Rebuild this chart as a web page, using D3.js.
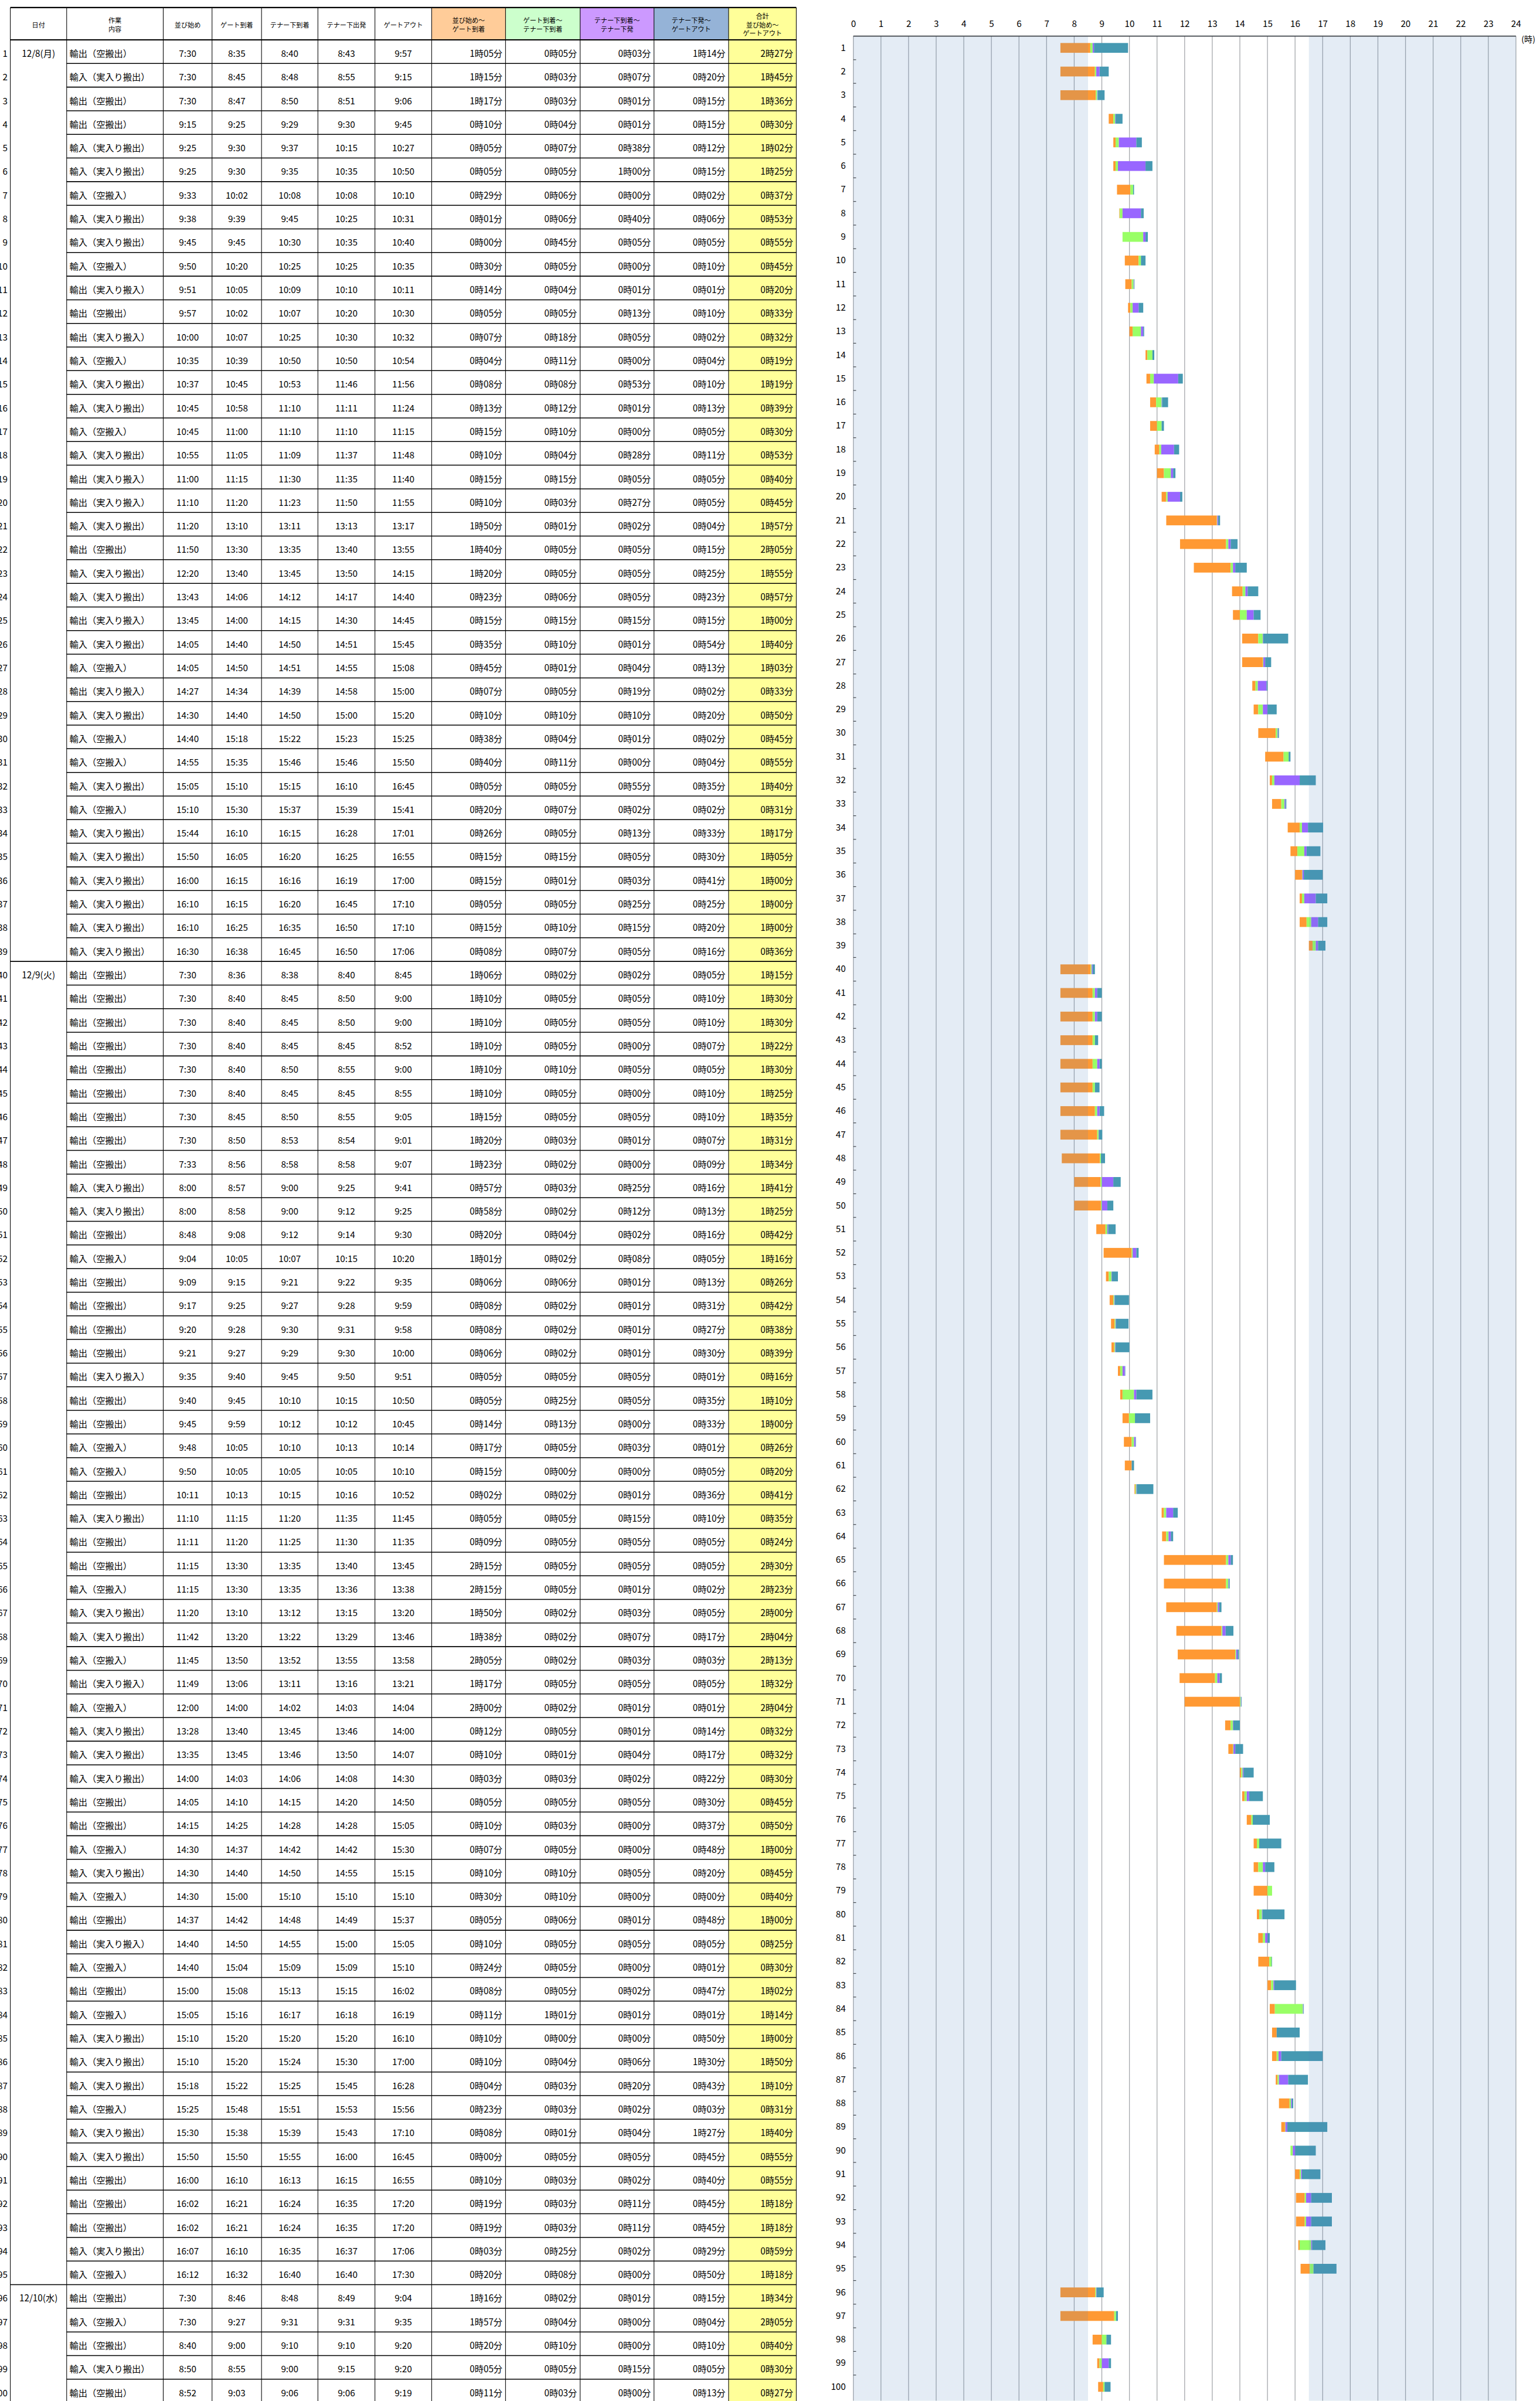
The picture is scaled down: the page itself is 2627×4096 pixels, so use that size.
<!DOCTYPE html>
<html>
<head>
<meta charset="utf-8">
<script src="https://cdn.jsdelivr.net/npm/d3@7"></script>
<style>
  html, body { margin: 0; padding: 0; background: #fff; }
  svg { display: block; }
  text { font-family: "Noto Sans CJK JP", "Noto Sans", sans-serif; fill: #000; }
</style>
</head>
<body>
<svg id="chart"></svg>
<script>
// page is drawn in reference units (4481 wide) and scaled down
const W = 2627, H = 4096;
const k = W / 4481;

// ---- data ----
const dateLabels = ["12/8(月)", "12/9(火)", "12/10(水)"];
const dateFirstRows = [1, 40, 96];

const workKinds = ["輸出（空搬出）", "輸入（実入り搬出）", "輸入（空搬入）", "輸出（実入り搬入）"];
const workKindIdx = [
  0,1,0,0,1,1,2,1,1,2, 3,0,3,2,1,1,2,1,3,3,
  1,0,1,1,3,1,2,3,1,2, 2,1,2,1,1,1,1,1,1,0,
  0,0,0,0,0,0,0,0,1,1, 0,2,0,0,0,0,3,0,0,2,
  2,0,1,0,0,2,1,1,2,3, 2,1,1,1,0,0,2,1,2,0,
  3,2,0,2,1,1,1,2,1,1, 0,0,0,1,2,0,2,0,1,0
];

// 並び始め
const startTimes = [
  "7:30","7:30","7:30","9:15","9:25","9:25","9:33","9:38","9:45","9:50",
  "9:51","9:57","10:00","10:35","10:37","10:45","10:45","10:55","11:00","11:10",
  "11:20","11:50","12:20","13:43","13:45","14:05","14:05","14:27","14:30","14:40",
  "14:55","15:05","15:10","15:44","15:50","16:00","16:10","16:10","16:30","7:30",
  "7:30","7:30","7:30","7:30","7:30","7:30","7:30","7:33","8:00","8:00",
  "8:48","9:04","9:09","9:17","9:20","9:21","9:35","9:40","9:45","9:48",
  "9:50","10:11","11:10","11:11","11:15","11:15","11:20","11:42","11:45","11:49",
  "12:00","13:28","13:35","14:00","14:05","14:15","14:30","14:30","14:30","14:37",
  "14:40","14:40","15:00","15:05","15:10","15:10","15:18","15:25","15:30","15:50",
  "16:00","16:02","16:02","16:07","16:12","7:30","7:30","8:40","8:50","8:52"
];
// ゲート到着
const gateInTimes = [
  "8:35","8:45","8:47","9:25","9:30","9:30","10:02","9:39","9:45","10:20",
  "10:05","10:02","10:07","10:39","10:45","10:58","11:00","11:05","11:15","11:20",
  "13:10","13:30","13:40","14:06","14:00","14:40","14:50","14:34","14:40","15:18",
  "15:35","15:10","15:30","16:10","16:05","16:15","16:15","16:25","16:38","8:36",
  "8:40","8:40","8:40","8:40","8:40","8:45","8:50","8:56","8:57","8:58",
  "9:08","10:05","9:15","9:25","9:28","9:27","9:40","9:45","9:59","10:05",
  "10:05","10:13","11:15","11:20","13:30","13:30","13:10","13:20","13:50","13:06",
  "14:00","13:40","13:45","14:03","14:10","14:25","14:37","14:40","15:00","14:42",
  "14:50","15:04","15:08","15:16","15:20","15:20","15:22","15:48","15:38","15:50",
  "16:10","16:21","16:21","16:10","16:32","8:46","9:27","9:00","8:55","9:03"
];
// テナー下到着
const chassisInTimes = [
  "8:40","8:48","8:50","9:29","9:37","9:35","10:08","9:45","10:30","10:25",
  "10:09","10:07","10:25","10:50","10:53","11:10","11:10","11:09","11:30","11:23",
  "13:11","13:35","13:45","14:12","14:15","14:50","14:51","14:39","14:50","15:22",
  "15:46","15:15","15:37","16:15","16:20","16:16","16:20","16:35","16:45","8:38",
  "8:45","8:45","8:45","8:50","8:45","8:50","8:53","8:58","9:00","9:00",
  "9:12","10:07","9:21","9:27","9:30","9:29","9:45","10:10","10:12","10:10",
  "10:05","10:15","11:20","11:25","13:35","13:35","13:12","13:22","13:52","13:11",
  "14:02","13:45","13:46","14:06","14:15","14:28","14:42","14:50","15:10","14:48",
  "14:55","15:09","15:13","16:17","15:20","15:24","15:25","15:51","15:39","15:55",
  "16:13","16:24","16:24","16:35","16:40","8:48","9:31","9:10","9:00","9:06"
];
// テナー下出発
const chassisOutTimes = [
  "8:43","8:55","8:51","9:30","10:15","10:35","10:08","10:25","10:35","10:25",
  "10:10","10:20","10:30","10:50","11:46","11:11","11:10","11:37","11:35","11:50",
  "13:13","13:40","13:50","14:17","14:30","14:51","14:55","14:58","15:00","15:23",
  "15:46","16:10","15:39","16:28","16:25","16:19","16:45","16:50","16:50","8:40",
  "8:50","8:50","8:45","8:55","8:45","8:55","8:54","8:58","9:25","9:12",
  "9:14","10:15","9:22","9:28","9:31","9:30","9:50","10:15","10:12","10:13",
  "10:05","10:16","11:35","11:30","13:40","13:36","13:15","13:29","13:55","13:16",
  "14:03","13:46","13:50","14:08","14:20","14:28","14:42","14:55","15:10","14:49",
  "15:00","15:09","15:15","16:18","15:20","15:30","15:45","15:53","15:43","16:00",
  "16:15","16:35","16:35","16:37","16:40","8:49","9:31","9:10","9:15","9:06"
];
// ゲートアウト
const gateOutTimes = [
  "9:57","9:15","9:06","9:45","10:27","10:50","10:10","10:31","10:40","10:35",
  "10:11","10:30","10:32","10:54","11:56","11:24","11:15","11:48","11:40","11:55",
  "13:17","13:55","14:15","14:40","14:45","15:45","15:08","15:00","15:20","15:25",
  "15:50","16:45","15:41","17:01","16:55","17:00","17:10","17:10","17:06","8:45",
  "9:00","9:00","8:52","9:00","8:55","9:05","9:01","9:07","9:41","9:25",
  "9:30","10:20","9:35","9:59","9:58","10:00","9:51","10:50","10:45","10:14",
  "10:10","10:52","11:45","11:35","13:45","13:38","13:20","13:46","13:58","13:21",
  "14:04","14:00","14:07","14:30","14:50","15:05","15:30","15:15","15:10","15:37",
  "15:05","15:10","16:02","16:19","16:10","17:00","16:28","15:56","17:10","16:45",
  "16:55","17:20","17:20","17:06","17:30","9:04","9:35","9:20","9:20","9:19"
];

const headerTexts = [
  ["日付"], ["作業", "内容"], ["並び始め"], ["ゲート到着"], ["テナー下到着"],
  ["テナー下出発"], ["ゲートアウト"], ["並び始め～", "ゲート到着"],
  ["ゲート到着～", "テナー下到着"], ["テナー下到着～", "テナー下発"],
  ["テナー下発～", "ゲートアウト"], ["合計", "並び始め～", "ゲートアウト"]
];
const hourTicks = d3.range(0, 25);
const shadedHours = [[0, 8.5], [16.5, 24]];
const segmentColors = ["#FF9933", "#99FF66", "#9966FF", "#4699B2"];
const headerFills = {7: "#FFCC99", 8: "#CCFFCC", 9: "#CC99FF", 10: "#95B3D7", 11: "#FFFF99"};

// ---- helpers ----
const toMin = (s) => { const [h, m] = s.split(":").map(Number); return h * 60 + m; };
const fmtDur = (m) => `${Math.floor(m / 60)}時${String(m % 60).padStart(2, "0")}分`;

const rowIds = d3.range(1, 101);
const rows = rowIds.map((id, i) => {
  const times = [startTimes[i], gateInTimes[i], chassisInTimes[i], chassisOutTimes[i], gateOutTimes[i]];
  const mins = times.map(toMin);
  const durs = [mins[1] - mins[0], mins[2] - mins[1], mins[3] - mins[2], mins[4] - mins[3], mins[4] - mins[0]];
  return { id, work: workKinds[workKindIdx[i]], times, mins, durs };
});

const svg = d3.select("#chart").attr("width", W).attr("height", H);
const root = svg.append("g").attr("transform", `scale(${k})`);

const FS = 26;     // body font, reference units
const HFS = 19;    // header font

// ================= table =================
const colX = [30, 194, 475, 617, 761, 925, 1091, 1256, 1471, 1688, 1903, 2120, 2317];
const headTop = 22, headBot = 116, rowH = 68.76;
const yRow = d3.scaleBand().domain(rowIds).range([headBot, headBot + rowIds.length * rowH]);
const tableBottom = headBot + rowIds.length * rowH;

const table = root.append("g").attr("class", "table");

// header fills
table.selectAll("rect.hfill")
  .data(Object.keys(headerFills).map(Number))
  .join("rect")
  .attr("class", "hfill")
  .attr("x", (j) => colX[j]).attr("y", headTop)
  .attr("width", (j) => colX[j + 1] - colX[j]).attr("height", headBot - headTop)
  .attr("fill", (j) => headerFills[j]);

// yellow total column
table.append("rect")
  .attr("x", colX[11]).attr("y", headBot)
  .attr("width", colX[12] - colX[11]).attr("height", tableBottom - headBot)
  .attr("fill", "#FFFF99");

// header text
headerTexts.forEach((lines, j) => {
  const cx = (colX[j] + colX[j + 1]) / 2;
  const cy = (headTop + headBot) / 2 + 2;
  lines.forEach((t, li) => {
    table.append("text")
      .attr("x", cx)
      .attr("y", cy + (li - (lines.length - 1) / 2) * 25)
      .attr("text-anchor", "middle")
      .attr("dominant-baseline", "central")
      .attr("font-size", HFS)
      .text(t);
  });
});

// body rows
const rowG = table.selectAll("g.row")
  .data(rows)
  .join("g")
  .attr("class", "row")
  .attr("transform", (d) => `translate(0,${yRow(d.id) + yRow.bandwidth() / 2 + 3})`);

rowG.append("text")
  .attr("x", 22).attr("text-anchor", "end")
  .attr("dominant-baseline", "central").attr("font-size", FS)
  .text((d) => d.id);

rowG.append("text")
  .attr("x", colX[1] + 8)
  .attr("dominant-baseline", "central").attr("font-size", FS)
  .text((d) => d.work);

rowG.each(function (d) {
  const g = d3.select(this);
  d.times.forEach((t, j) => {
    g.append("text")
      .attr("x", (colX[j + 2] + colX[j + 3]) / 2)
      .attr("text-anchor", "middle")
      .attr("dominant-baseline", "central").attr("font-size", FS)
      .text(t);
  });
  d.durs.forEach((m, j) => {
    g.append("text")
      .attr("x", colX[j + 8] - 9)
      .attr("text-anchor", "end")
      .attr("dominant-baseline", "central").attr("font-size", FS)
      .text(fmtDur(m));
  });
});

// date labels
table.selectAll("text.date")
  .data(dateLabels)
  .join("text")
  .attr("class", "date")
  .attr("x", (colX[0] + colX[1]) / 2)
  .attr("y", (d, i) => yRow(dateFirstRows[i]) + yRow.bandwidth() / 2 + 3)
  .attr("text-anchor", "middle")
  .attr("dominant-baseline", "central")
  .attr("font-size", FS)
  .text((d) => d);

// grid lines of the table
table.selectAll("line.v")
  .data(colX)
  .join("line")
  .attr("x1", (d) => d).attr("x2", (d) => d)
  .attr("y1", headTop).attr("y2", tableBottom)
  .attr("stroke", "#000").attr("stroke-width", 1.8);

[headTop, headBot].forEach((y) => {
  table.append("line")
    .attr("x1", colX[0]).attr("x2", colX[12])
    .attr("y1", y).attr("y2", y)
    .attr("stroke", "#000").attr("stroke-width", 3.5);
});

table.selectAll("line.h")
  .data(rowIds)
  .join("line")
  .attr("x1", (id) => (dateFirstRows.includes(id + 1) || id === 100 ? colX[0] : colX[1]))
  .attr("x2", colX[12])
  .attr("y1", (id) => yRow(id) + rowH).attr("y2", (id) => yRow(id) + rowH)
  .attr("stroke", "#000").attr("stroke-width", 2.6);

// ================= gantt =================
const x = d3.scaleLinear().domain([0, 24]).range([2483, 4411]);
const yBar = d3.scaleBand().domain(rowIds).range([105, 105 + rowIds.length * 68.75]);
const plotTop = 105, plotBottom = 6986;
const barH = 28.5;

const chart = root.append("g").attr("class", "gantt");

// hour gridlines
chart.selectAll("line.grid")
  .data(hourTicks)
  .join("line")
  .attr("x1", (h) => x(h)).attr("x2", (h) => x(h))
  .attr("y1", plotTop).attr("y2", plotBottom)
  .attr("stroke", "#A4A7AB").attr("stroke-width", 2.2);

// bars
const segs = [];
rows.forEach((d) => {
  for (let j = 0; j < 4; j++) {
    if (d.mins[j + 1] > d.mins[j]) {
      segs.push({ id: d.id, from: d.mins[j] / 60, to: d.mins[j + 1] / 60, kind: j });
    }
  }
});
chart.selectAll("rect.seg")
  .data(segs)
  .join("rect")
  .attr("class", "seg")
  .attr("x", (d) => x(d.from))
  .attr("width", (d) => x(d.to) - x(d.from))
  .attr("y", (d) => yBar(d.id) + (yBar.bandwidth() - barH) / 2)
  .attr("height", barH)
  .attr("fill", (d) => segmentColors[d.kind]);

// shaded off-hours overlay
chart.selectAll("rect.shade")
  .data(shadedHours)
  .join("rect")
  .attr("x", (d) => x(d[0]))
  .attr("width", (d) => x(d[1]) - x(d[0]))
  .attr("y", plotTop).attr("height", plotBottom - plotTop)
  .attr("fill", "#4F81BD").attr("fill-opacity", 0.153);

// top hour axis
const xAxis = chart.append("g")
  .attr("transform", `translate(0,${plotTop})`)
  .call(d3.axisTop(x).tickValues(hourTicks).tickSize(0).tickPadding(27).tickFormat(d3.format("d")));
xAxis.select(".domain").remove();
xAxis.selectAll("text").attr("font-size", FS).attr("font-family", null).attr("fill", "#000");

chart.append("line")
  .attr("x1", x(0)).attr("x2", x(24))
  .attr("y1", plotTop).attr("y2", plotTop)
  .attr("stroke", "#3E4349").attr("stroke-width", 3);

chart.append("text")
  .attr("x", x(24) + 16).attr("y", plotTop + 8)
  .attr("dominant-baseline", "central")
  .attr("font-size", 24)
  .text("(時)");

// left row labels
const yAxis = chart.append("g")
  .attr("transform", `translate(${x(0)},0)`)
  .call(d3.axisLeft(yBar).tickSize(0).tickPadding(22));
yAxis.select(".domain").remove();
yAxis.selectAll("text").attr("font-size", FS).attr("font-family", null).attr("fill", "#000");

// small boundary ticks
chart.selectAll("line.btick")
  .data(rowIds.slice(1))
  .join("line")
  .attr("x1", x(0)).attr("x2", x(0) + 8)
  .attr("y1", (id) => yBar(id)).attr("y2", (id) => yBar(id))
  .attr("stroke", "#3E4349").attr("stroke-width", 2);
</script>
</body>
</html>
